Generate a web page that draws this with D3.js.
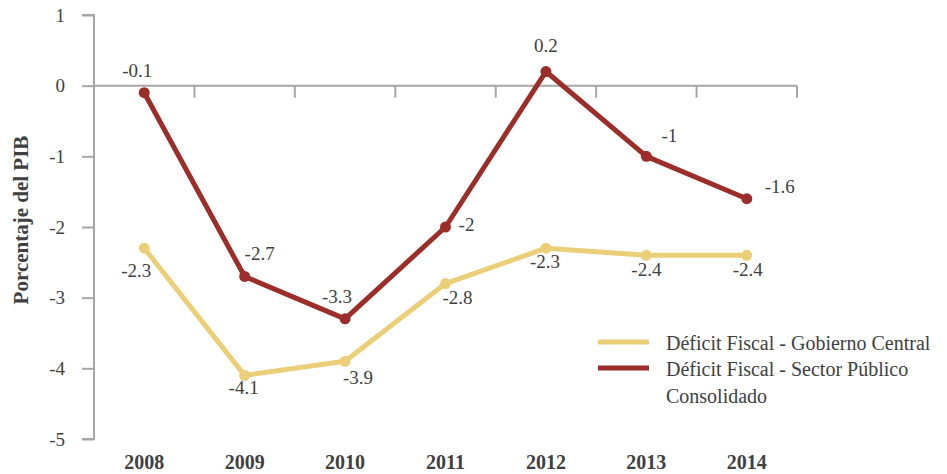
<!DOCTYPE html>
<html>
<head>
<meta charset="utf-8">
<script src="https://cdn.jsdelivr.net/npm/d3@7"></script>
<style>
  html, body { margin: 0; padding: 0; background: #fff; }
</style>
</head>
<body>
<svg id="chart" width="947" height="474"></svg>
<script>
// Déficit fiscal como porcentaje del PIB, 2008-2014
const years = ["2008", "2009", "2010", "2011", "2012", "2013", "2014"];
const gobiernoCentral = [-2.3, -4.1, -3.9, -2.8, -2.3, -2.4, -2.4];
const sectorPublico = [-0.1, -2.7, -3.3, -2, 0.2, -1, -1.6];
const yTicks = [1, 0, -1, -2, -3, -4, -5];
const seriesNames = [
  "Déficit Fiscal - Gobierno Central",
  "Déficit Fiscal - Sector Público Consolidado"
];

// label placement relative to each point (layout only)
const nudgeGobierno = [[-8, 29], [-1, 19], [13, 23], [12, 20], [-1, 20], [0, 21], [1, 21]];
const nudgeSector = [[-7, -16], [15, -16], [-8, -16], [21, 4], [0, -20], [23, -14], [33, -6]];

const colors = { gobierno: "#EBCF78", sector: "#9B2D2A", axis: "#A6A6A6", text: "#404040" };
const FONT = '"Liberation Serif", "DejaVu Serif", serif';

const svg = d3.select("#chart");
const plotLeft = 94, plotRight = 797, plotTop = 15, plotBottom = 439;

const x = d3.scaleBand().domain(years).range([plotLeft, plotRight]);
const y = d3.scaleLinear().domain([-5, 1]).range([plotBottom, plotTop]);

// y axis
const yAxis = svg.append("g")
  .attr("transform", `translate(${plotLeft},0)`)
  .call(d3.axisLeft(y).tickValues(yTicks).tickSize(12).tickPadding(17).tickFormat(d => String(d)));
yAxis.attr("font-family", FONT);
yAxis.select(".domain").attr("stroke", colors.axis).attr("stroke-width", 2).attr("d", `M-12,${y(1)}H0V${y(-5)}H-12`);
yAxis.selectAll(".tick line").attr("stroke", colors.axis).attr("stroke-width", 2);
yAxis.selectAll(".tick text").attr("font-size", 19).attr("fill", colors.text).attr("font-family", FONT);

// x axis on the zero line, ticks at band boundaries
const xAxisG = svg.append("g").attr("transform", `translate(0,${y(0)})`);
xAxisG.append("line").attr("x1", plotLeft).attr("x2", plotRight).attr("y1", 0).attr("y2", 0)
  .attr("stroke", colors.axis).attr("stroke-width", 2);
const boundaries = years.map(d => x(d)).concat([x(years[years.length - 1]) + x.bandwidth()]);
xAxisG.selectAll("line.tick").data(boundaries.slice(1)).join("line")
  .attr("class", "tick")
  .attr("x1", d => d).attr("x2", d => d).attr("y1", 0).attr("y2", 12)
  .attr("stroke", colors.axis).attr("stroke-width", 2);

// year labels along the bottom
svg.append("g").selectAll("text").data(years).join("text")
  .attr("x", d => x(d) + x.bandwidth() / 2)
  .attr("y", 469)
  .attr("text-anchor", "middle")
  .attr("font-family", FONT).attr("fill", colors.text)
  .attr("font-size", 20).attr("font-weight", "bold")
  .text(d => d);

// y axis title
svg.append("text")
  .attr("transform", `translate(28,220) rotate(-90)`)
  .attr("text-anchor", "middle")
  .attr("font-family", FONT).attr("fill", colors.text)
  .attr("font-size", 21).attr("font-weight", "bold")
  .text("Porcentaje del PIB");

const line = d3.line().x((d, i) => x(years[i]) + x.bandwidth() / 2).y(d => y(d));

function drawSeries(values, color, nudges) {
  const g = svg.append("g");
  g.append("path").datum(values)
    .attr("d", line).attr("fill", "none")
    .attr("stroke", color).attr("stroke-width", 5)
    .attr("stroke-linejoin", "round");
  g.selectAll("circle").data(values).join("circle")
    .attr("cx", (d, i) => x(years[i]) + x.bandwidth() / 2)
    .attr("cy", d => y(d))
    .attr("r", 5.5).attr("fill", color);
  g.selectAll("text").data(values).join("text")
    .attr("x", (d, i) => x(years[i]) + x.bandwidth() / 2 + nudges[i][0])
    .attr("y", (d, i) => y(d) + nudges[i][1])
    .attr("text-anchor", "middle")
    .attr("font-family", FONT).attr("fill", colors.text)
    .attr("font-size", 19)
    .text(d => String(d));
}

drawSeries(gobiernoCentral, colors.gobierno, nudgeGobierno);
drawSeries(sectorPublico, colors.sector, nudgeSector);

// legend
const legend = svg.append("g").attr("font-family", FONT).attr("fill", colors.text).attr("font-size", 20);
legend.append("line").attr("x1", 598).attr("x2", 649).attr("y1", 342).attr("y2", 342)
  .attr("stroke", colors.gobierno).attr("stroke-width", 5);
legend.append("text").attr("x", 666).attr("y", 350).text(seriesNames[0]);
legend.append("line").attr("x1", 598).attr("x2", 649).attr("y1", 368).attr("y2", 368)
  .attr("stroke", colors.sector).attr("stroke-width", 5);
const t2 = legend.append("text").attr("x", 666).attr("y", 376);
t2.append("tspan").attr("x", 666).text("Déficit Fiscal - Sector Público");
t2.append("tspan").attr("x", 666).attr("dy", 27).text("Consolidado");
</script>
</body>
</html>
